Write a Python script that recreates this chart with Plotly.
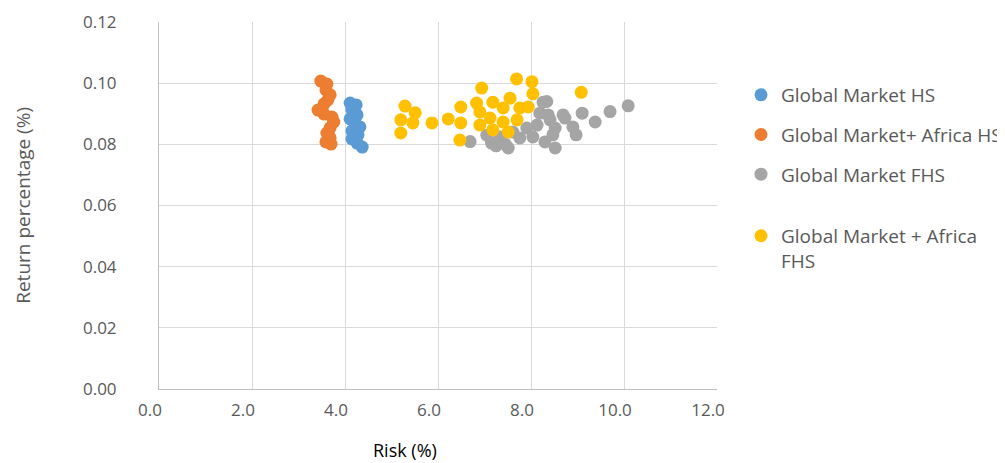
import plotly.graph_objects as go

# ---- data ----
hs_global_x = [4.11, 4.24, 4.15, 4.26, 4.11, 4.22, 4.32, 4.15, 4.28, 4.15, 4.26, 4.37]
hs_global_y = [0.0935, 0.0929, 0.0912, 0.0896, 0.0883, 0.0870, 0.0857, 0.0844, 0.0831, 0.0818, 0.0804, 0.0791]

hs_africa_x = [3.48, 3.61, 3.59, 3.68, 3.63, 3.55, 3.42, 3.55, 3.72, 3.76, 3.68, 3.61, 3.68, 3.59, 3.70]
hs_africa_y = [0.1007, 0.0997, 0.0978, 0.0962, 0.0945, 0.0932, 0.0912, 0.0899, 0.0889, 0.0873, 0.0854, 0.0837, 0.0821, 0.0808, 0.0801]

fhs_global_x = [6.69, 7.15, 7.33, 7.51, 7.61, 7.76, 7.91, 8.04, 8.13, 8.19, 8.26, 8.30, 8.34, 8.37, 8.41,
                8.47, 8.52, 8.52, 8.69, 8.73, 8.90, 8.97, 9.10, 9.38, 9.70, 10.09, 7.25, 7.45, 7.05]
fhs_global_y = [0.0809, 0.0804, 0.0824, 0.0788, 0.0840, 0.0821, 0.0853, 0.0824, 0.0863, 0.0902, 0.0938, 0.0808, 0.0940, 0.0896, 0.0880,
                0.0831, 0.0853, 0.0788, 0.0896, 0.0886, 0.0857, 0.0831, 0.0902, 0.0873, 0.0907, 0.0926, 0.0795, 0.0800, 0.0830]

fhs_africa_x = [5.29, 5.51, 5.20, 5.46, 5.20, 5.87, 6.22, 6.49, 6.49, 6.47,
                7.69, 8.02, 8.04, 6.94, 6.83, 7.18, 7.55, 7.40, 7.76, 7.94, 6.90, 7.12, 7.40, 7.70, 6.90, 7.18, 7.51, 9.08]
fhs_africa_y = [0.0925, 0.0903, 0.0880, 0.0870, 0.0837, 0.0870, 0.0883, 0.0922, 0.0870, 0.0814,
                0.1014, 0.1005, 0.0965, 0.0984, 0.0935, 0.0938, 0.0951, 0.0919, 0.0919, 0.0922, 0.0906, 0.0886, 0.0873, 0.0880, 0.0863, 0.0847, 0.0840, 0.0970]

x_ticks = [0, 2, 4, 6, 8, 10, 12]
x_tick_labels = ["0.0", "2.0", "4.0", "6.0", "8.0", "10.0", "12.0"]

series = [
    ("Global Market HS", hs_global_x, hs_global_y, "#5B9BD5", "legend"),
    ("Global Market+ Africa HS", hs_africa_x, hs_africa_y, "#ED7D31", "legend"),
    ("Global Market FHS", fhs_global_x, fhs_global_y, "#A5A5A5", "legend"),
    ("Global Market + Africa<br>FHS", fhs_africa_x, fhs_africa_y, "#FFC000", "legend2"),
]

fig = go.Figure()
for i, (name, xs, ys, col, leg) in enumerate(series):
    fig.add_trace(go.Scatter(
        x=xs, y=ys, mode="markers", name=name, legendgroup=f"g{i}", legend=leg,
        marker=dict(color=col, size=13, line=dict(width=0)),
    ))

font_main = "Open Sans, DejaVu Sans, sans-serif"
legend_common = dict(
    xanchor="left", yanchor="top",
    font=dict(size=19, color="#595959", family=font_main),
    tracegroupgap=12, itemwidth=30, valign="top",
    bgcolor="rgba(0,0,0,0)",
)
fig.update_layout(
    width=997, height=455,
    margin=dict(l=151, r=288, t=14, b=74, autoexpand=False),
    paper_bgcolor="white", plot_bgcolor="white",
    font=dict(family=font_main, size=17, color="#595959"),
    showlegend=True,
    legend=dict(x=1.043, y=0.853, **legend_common),
    legend2=dict(x=1.043, y=0.469, **legend_common),
    xaxis=dict(
        range=[0, 12], tickvals=x_ticks, ticktext=x_tick_labels,
        showgrid=True, gridcolor="#D9D9D9", gridwidth=1,
        showline=True, linecolor="#BFBFBF", linewidth=1,
        zeroline=False, ticks="", ticklabelshift=-9, ticklabelstandoff=6,
        tickfont=dict(size=17, color="#595959"),
    ),
    yaxis=dict(
        range=[0, 0.12], dtick=0.02, tickformat=".2f",
        showgrid=True, gridcolor="#D9D9D9", gridwidth=1,
        showline=True, linecolor="#BFBFBF", linewidth=1,
        zeroline=False, ticks="", ticklabelstandoff=38,
        tickfont=dict(size=17, color="#595959"),
    ),
    annotations=[
        dict(text="Risk (%)", xref="paper", yref="paper", x=0.441, y=-0.166,
             xanchor="center", yanchor="middle", showarrow=False,
             font=dict(size=18, color="#000000", family=font_main)),
        dict(text="Return percentage (%)", xref="paper", yref="paper", x=-0.245, y=0.5,
             xanchor="center", yanchor="middle", showarrow=False, textangle=-90,
             font=dict(size=19, color="#595959", family=font_main)),
    ],
)

fig.write_html("out.html")
